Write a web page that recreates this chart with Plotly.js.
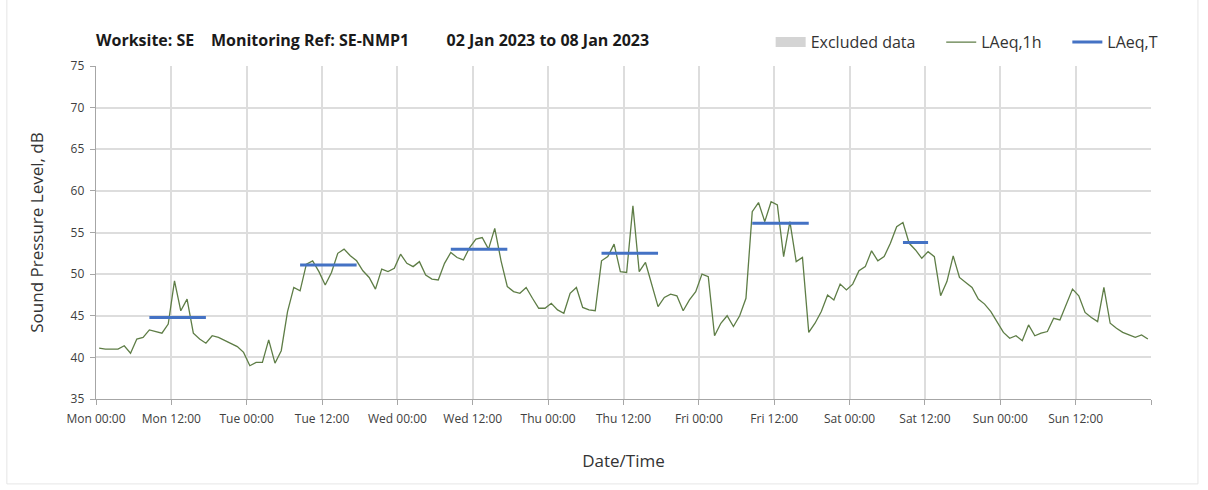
<!DOCTYPE html>
<html>
<head>
<meta charset="utf-8">
<script src="https://cdn.plot.ly/plotly-3.0.1.min.js"></script>
<style>
html,body{margin:0;padding:0;background:#fff;}
#chart{width:1208px;height:490px;}
</style>
</head>
<body>
<div id="chart"></div>
<script>
// Hourly LAeq,1h values (dB), one array per day, hour 00 .. 23
const monLevels = [41.1, 41.0, 41.0, 41.0, 41.4, 40.5, 42.2, 42.4, 43.3, 43.1, 42.9, 44.0, 49.2, 45.6, 47.0, 42.9, 42.2, 41.7, 42.6, 42.4, 42.0, 41.6, 41.3, 40.6];
const tueLevels = [39.0, 39.4, 39.4, 42.1, 39.3, 40.8, 45.5, 48.4, 48.0, 51.2, 51.6, 50.3, 48.7, 50.2, 52.5, 53.0, 52.2, 51.6, 50.4, 49.6, 48.2, 50.6, 50.3, 50.7];
const wedLevels = [52.4, 51.3, 50.9, 51.5, 49.9, 49.4, 49.3, 51.3, 52.6, 52.0, 51.7, 53.2, 54.2, 54.4, 53.0, 55.5, 51.6, 48.5, 47.9, 47.7, 48.4, 47.1, 45.9, 45.9];
const thuLevels = [46.5, 45.7, 45.3, 47.7, 48.4, 46.0, 45.7, 45.6, 51.6, 52.1, 53.6, 50.3, 50.2, 58.2, 50.3, 51.4, 48.8, 46.1, 47.2, 47.6, 47.4, 45.6, 46.9, 47.9];
const friLevels = [50.0, 49.7, 42.6, 44.1, 45.0, 43.7, 45.0, 47.1, 57.5, 58.6, 56.3, 58.7, 58.3, 52.1, 56.3, 51.5, 52.0, 43.0, 44.1, 45.5, 47.5, 46.9, 48.8, 48.1];
const satLevels = [48.8, 50.4, 50.9, 52.8, 51.6, 52.1, 53.7, 55.7, 56.2, 53.7, 52.9, 51.9, 52.7, 52.1, 47.4, 49.1, 52.2, 49.6, 49.0, 48.4, 47.0, 46.4, 45.5, 44.3];
const sunLevels = [43.0, 42.3, 42.6, 42.0, 43.9, 42.6, 42.9, 43.1, 44.7, 44.5, 46.3, 48.2, 47.4, 45.4, 44.8, 44.3, 48.4, 44.1, 43.5, 43.0, 42.7, 42.4, 42.7, 42.2];
const dayDates = ['2023-01-02', '2023-01-03', '2023-01-04', '2023-01-05', '2023-01-06', '2023-01-07', '2023-01-08'];

// LAeq,T daytime periods
const periodStart = ['2023-01-02 08:30', '2023-01-03 08:30', '2023-01-04 08:30', '2023-01-05 08:30', '2023-01-06 08:30', '2023-01-07 08:30'];
const periodEnd   = ['2023-01-02 17:30', '2023-01-03 17:30', '2023-01-04 17:30', '2023-01-05 17:30', '2023-01-06 17:30', '2023-01-07 12:30'];
const periodLevel = [44.8, 51.1, 53.0, 52.5, 56.1, 53.8];

// Excluded data (none in this week)
const excludedX = [null];
const excludedY = [null];

// X tick labels (every 12 h)
const tickLabels = ['Mon 00:00', 'Mon 12:00', 'Tue 00:00', 'Tue 12:00', 'Wed 00:00', 'Wed 12:00', 'Thu 00:00', 'Thu 12:00', 'Fri 00:00', 'Fri 12:00', 'Sat 00:00', 'Sat 12:00', 'Sun 00:00', 'Sun 12:00', ''];
const tickTimes = ['2023-01-02 00:00', '2023-01-02 12:00', '2023-01-03 00:00', '2023-01-03 12:00', '2023-01-04 00:00', '2023-01-04 12:00', '2023-01-05 00:00', '2023-01-05 12:00', '2023-01-06 00:00', '2023-01-06 12:00', '2023-01-07 00:00', '2023-01-07 12:00', '2023-01-08 00:00', '2023-01-08 12:00', '2023-01-09 00:00'];

const allDays = [monLevels, tueLevels, wedLevels, thuLevels, friLevels, satLevels, sunLevels];
const hourX = [], hourY = [];
allDays.forEach((arr, d) => {
  arr.forEach((v, h) => {
    hourX.push(dayDates[d] + ' ' + String(h).padStart(2, '0') + ':30');
    hourY.push(v);
  });
});

const tX = [], tY = [];
periodLevel.forEach((v, k) => {
  tX.push(periodStart[k], periodEnd[k], null);
  tY.push(v, v, null);
});

const FONT = 'Open Sans, Lato, sans-serif';
const GAP = '\u00a0\u00a0\u00a0\u00a0\u00a0';

const traces = [
  {
    x: excludedX, y: excludedY, type: 'scatter', mode: 'lines', name: 'Excluded data' + GAP,
    line: {width: 10, color: '#d4d4d4'}, hoverinfo: 'skip'
  },
  {
    x: hourX, y: hourY, type: 'scatter', mode: 'lines', name: 'LAeq,1h' + GAP,
    line: {color: '#5e7d46', width: 1.3}
  },
  {
    x: tX, y: tY, type: 'scatter', mode: 'lines', name: 'LAeq,T',
    line: {color: '#4472c4', width: 3}, connectgaps: false
  }
];

const layout = {
  width: 1208, height: 490,
  paper_bgcolor: '#ffffff', plot_bgcolor: '#ffffff',
  margin: {l: 96, r: 57, t: 66, b: 91},
  font: {family: FONT, color: '#404040', size: 12},
  title: {
    text: 'Worksite: SE\u00a0\u00a0\u00a0 Monitoring Ref: SE-NMP1\u00a0\u00a0\u00a0\u00a0\u00a0\u00a0\u00a0\u00a0 02 Jan 2023 to 08 Jan 2023',
    font: {family: FONT, size: 16, color: '#1a1a1a', weight: 'bold'},
    x: 0, xref: 'paper', xanchor: 'left',
    y: 0.918, yref: 'container', yanchor: 'middle'
  },
  showlegend: true,
  legend: {
    orientation: 'h', x: 1.012, xanchor: 'right', y: 0.914, yref: 'container', yanchor: 'middle',
    font: {family: FONT, size: 16, color: '#333333'},
    bgcolor: 'rgba(0,0,0,0)', traceorder: 'normal', itemwidth: 30
  },
  xaxis: {
    type: 'date',
    range: ['2023-01-02 00:00', '2023-01-09 00:00'],
    tickmode: 'array', tickvals: tickTimes, ticktext: tickLabels,
    showgrid: true, gridcolor: '#dddddd', gridwidth: 2,
    showline: true, linecolor: '#a6a6a6', linewidth: 1.3,
    ticks: 'outside', ticklen: 5, tickcolor: '#a6a6a6', ticklabelstandoff: 3,
    tickfont: {family: FONT, size: 12, color: '#404040'},
    zeroline: false,
    title: {text: 'Date/Time', font: {family: FONT, size: 17, color: '#333333'}, standoff: 29}
  },
  yaxis: {
    range: [35, 75], tickvals: [35, 40, 45, 50, 55, 60, 65, 70, 75],
    showgrid: true, gridcolor: '#dddddd', gridwidth: 2,
    showline: true, linecolor: '#a6a6a6', linewidth: 1.3,
    ticks: 'outside', ticklen: 5, tickcolor: '#a6a6a6', ticklabelstandoff: 3,
    tickfont: {family: FONT, size: 12, color: '#404040'},
    zeroline: false,
    title: {text: 'Sound Pressure Level, dB', font: {family: FONT, size: 17, color: '#333333'}, standoff: 22}
  },
  shapes: [
    {type: 'rect', xref: 'paper', yref: 'paper', x0: -0.0845, x1: 1.0445, y0: -0.255, y1: 1.27,
     line: {color: '#e6e6e6', width: 1}, fillcolor: 'rgba(0,0,0,0)', layer: 'below'}
  ]
};

Plotly.newPlot('chart', traces, layout, {displayModeBar: false, staticPlot: true});
</script>
</body>
</html>
